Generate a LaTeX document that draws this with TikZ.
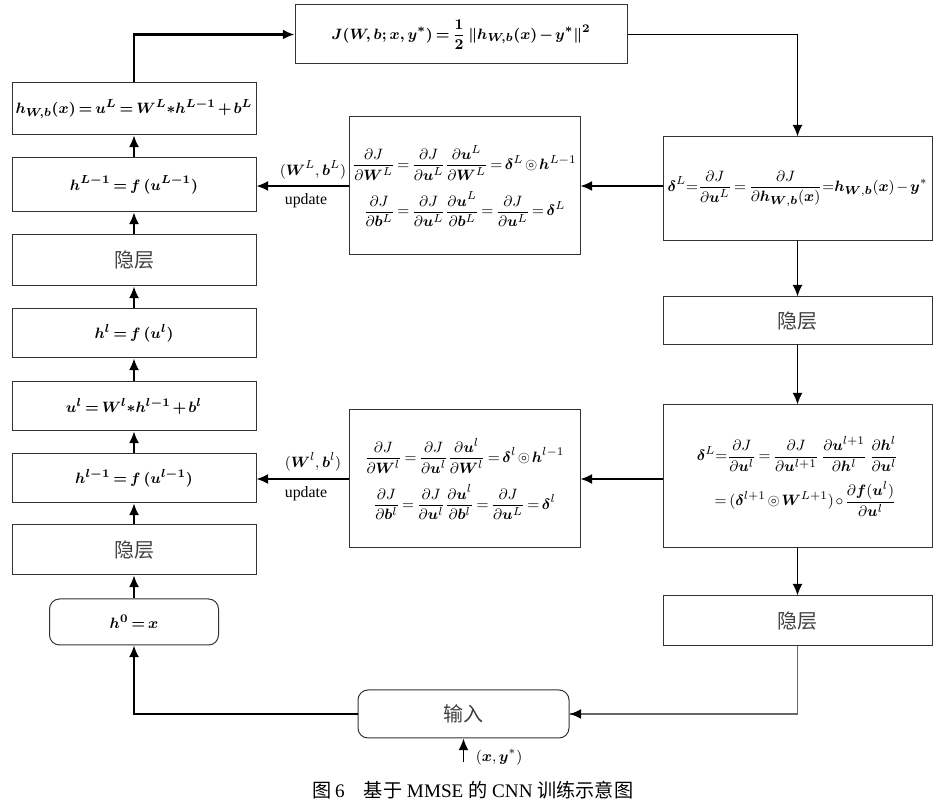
\documentclass[tikz,border=0pt]{standalone}
\usepackage{amsmath,amssymb,bm}
\usepackage{fontspec}
\setmainfont{Liberation Serif}
\newfontfamily\cjk{Noto Sans CJK SC}
\usetikzlibrary{arrows.meta}
\newcommand\pxu{0.6pt}
\thickmuskip=3mu plus 2mu
\medmuskip=2mu plus 1mu
\tikzset{
  box/.style={draw=black!80, line width=0.6pt, inner sep=0pt, align=center},
  rbox/.style={box, rounded corners=6pt},
  arr/.style={-{Latex[length=7pt,width=6pt]}, line width=0.9pt, black},
  cn/.style={font=\fontsize{12}{14}\selectfont\cjk\color{black!75}},
  mf/.style={font=\fontsize{9.5}{11}\selectfont},
  bmf/.style={font=\fontsize{9.5}{11}\selectfont\boldmath},
}
\begin{document}
\begin{tikzpicture}[x=0.6pt,y=-0.6pt]
\useasboundingbox (0,0) rectangle (945,803);
% top
\node[box, bmf, minimum width={332*\pxu}, minimum height={59*\pxu}] (J) at (461,34.5)
  {$J(W,b;x,y^*)=\dfrac{1}{2}\,\|h_{W,b}(x)-y^*\|^2$};
% left column
\node[box, bmf, minimum width={244*\pxu}, minimum height={52*\pxu}] (LA) at (134,109)
  {$h_{W,b}(x)=u^L=W^L{*}h^{L-1}+b^L$};
\node[box, bmf, minimum width={244*\pxu}, minimum height={54*\pxu}] (LB) at (134,185)
  {$h^{L-1}=f\,(u^{L-1})$};
\node[box, cn, minimum width={244*\pxu}, minimum height={51*\pxu}] (LC) at (134,260.5) {隐层};
\node[box, bmf, minimum width={244*\pxu}, minimum height={49*\pxu}] (LD) at (134,333.5)
  {$h^l=f\,(u^l)$};
\node[box, bmf, minimum width={244*\pxu}, minimum height={49*\pxu}] (LE) at (134,406.5)
  {$u^l=W^l{*}h^{l-1}+b^l$};
\node[box, bmf, minimum width={244*\pxu}, minimum height={49*\pxu}] (LF) at (134,478.5)
  {$h^{l-1}=f\,(u^{l-1})$};
\node[box, cn, minimum width={244*\pxu}, minimum height={50*\pxu}] (LG) at (134,550) {隐层};
\node[rbox, bmf, minimum width={169*\pxu}, minimum height={46*\pxu}] (LH) at (134,622)
  {$h^0=x$};
% right column
\node[box, mf, minimum width={269*\pxu}, minimum height={104*\pxu}] (RA) at (797.5,189)
  {$\bm{\delta}^L\!=\!\dfrac{\partial J}{\partial\bm{u}^L}=\dfrac{\partial J}{\partial\bm{h}_{\bm{W},\bm{b}}(\bm{x})}\!=\!\bm{h}_{\bm{W},\bm{b}}(\bm{x})-\bm{y}^*$};
\node[box, cn, minimum width={269*\pxu}, minimum height={48*\pxu}] (RB) at (797.5,321) {隐层};
\node[box, mf, minimum width={269*\pxu}, minimum height={143*\pxu}] (RC) at (797.5,476.5)
  {$\bm{\delta}^L\!=\!\dfrac{\partial J}{\partial\bm{u}^l}=\dfrac{\partial J}{\partial\bm{u}^{l+1}}\,\dfrac{\partial\bm{u}^{l+1}}{\partial\bm{h}^l}\,\dfrac{\partial\bm{h}^l}{\partial\bm{u}^l}$\\[5pt]
   $\quad=(\bm{\delta}^{l+1}\circledcirc\bm{W}^{L+1})\circ\dfrac{\partial\bm{f}(\bm{u}^l)}{\partial\bm{u}^l}$};
\node[box, cn, minimum width={269*\pxu}, minimum height={50*\pxu}] (RD) at (797.5,621) {隐层};
% middle
\node[box, mf, minimum width={231*\pxu}, minimum height={138*\pxu}] (MA) at (464.5,186)
  {$\dfrac{\partial J}{\partial\bm{W}^L}=\dfrac{\partial J}{\partial\bm{u}^L}\dfrac{\partial\bm{u}^L}{\partial\bm{W}^L}=\bm{\delta}^L\circledcirc\bm{h}^{L-1}$\\[6pt]
   $\dfrac{\partial J}{\partial\bm{b}^L}=\dfrac{\partial J}{\partial\bm{u}^L}\dfrac{\partial\bm{u}^L}{\partial\bm{b}^L}=\dfrac{\partial J}{\partial\bm{u}^L}=\bm{\delta}^L$};
\node[box, mf, minimum width={231*\pxu}, minimum height={138*\pxu}] (MB) at (464.5,479)
  {$\dfrac{\partial J}{\partial\bm{W}^l}=\dfrac{\partial J}{\partial\bm{u}^l}\dfrac{\partial\bm{u}^l}{\partial\bm{W}^l}=\bm{\delta}^l\circledcirc\bm{h}^{l-1}$\\[6pt]
   $\dfrac{\partial J}{\partial\bm{b}^l}=\dfrac{\partial J}{\partial\bm{u}^l}\dfrac{\partial\bm{u}^l}{\partial\bm{b}^l}=\dfrac{\partial J}{\partial\bm{u}^L}=\bm{\delta}^l$};
% input
\node[rbox, cn, minimum width={211*\pxu}, minimum height={48*\pxu}] (IN) at (463.5,714) {输入};
\coordinate (XY) at (463.5,762);
\node[anchor=west, mf] (XYL) at (470,757) {$(\bm{x},\bm{y}^*)$};
% labels
\node[mf] (LWL) at (313,170) {$(\bm{W}^L,\bm{b}^L)$};
\node[mf] (LUL) at (306,201) {update};
\node[mf] (LWl) at (313,462) {$(\bm{W}^l,\bm{b}^l)$};
\node[mf] (LUl) at (306,494) {update};
% caption
\node[font=\fontsize{11.5}{13}\selectfont] (CAP) at (473,790)
  {{\cjk 图}\,6\quad{\cjk 基于} MMSE {\cjk 的} CNN {\cjk 训练示意图}};
% connectors
\draw[arr, line width=1.4pt] (LA.north) |- (J.west);
\draw[arr] (J.east) -| (RA.north);
\draw[arr] (RA.south) -- (RB.north);
\draw[arr] (RB.south) -- (RC.north);
\draw[arr] (RC.south) -- (RD.north);
\draw[black!60, line width=0.7pt] (RD.south) |- (IN.east);
\draw[arr] ([xshift=2pt]IN.east) -- (IN.east);
\draw[arr] (IN.west) -| (LH.south);
\draw[arr] (LH.north) -- (LG.south);
\draw[arr] (LG.north) -- (LF.south);
\draw[arr] (LF.north) -- (LE.south);
\draw[arr] (LE.north) -- (LD.south);
\draw[arr] (LD.north) -- (LC.south);
\draw[arr] (LC.north) -- (LB.south);
\draw[arr] (LB.north) -- (LA.south);
\draw[arr] (RA.west |- MA.east) -- (MA.east);
\draw[arr] (MA.west) -- (MA.west -| LB.east);
\draw[arr] (RC.west |- MB.east) -- (MB.east);
\draw[arr] (MB.west) -- (MB.west -| LF.east);
\draw[arr] (XY) -- (IN.south);
\end{tikzpicture}
\end{document}
